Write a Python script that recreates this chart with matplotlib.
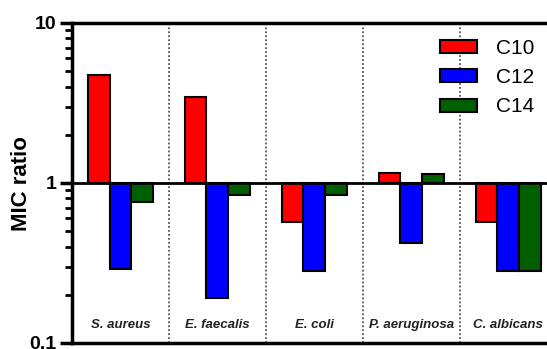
import numpy as np
import matplotlib.pyplot as plt
from matplotlib.ticker import LogLocator, NullFormatter, FixedLocator

plt.rcParams['font.family'] = ['Liberation Sans', 'DejaVu Sans']

organisms = ['S. aureus', 'E. faecalis', 'E. coli', 'P. aeruginosa', 'C. albicans']
c10 = [4.7, 3.45, 0.57, 1.15, 0.57]
c12 = [0.29, 0.19, 0.28, 0.42, 0.28]
c14 = [0.76, 0.84, 0.84, 1.13, 0.28]
series = [('C10', c10, '#ff0000'), ('C12', c12, '#0000ff'), ('C14', c14, '#005f00')]

fig = plt.figure(figsize=(5.47, 3.49), dpi=100)
ax = fig.add_axes([0.1316, 0.0172, 0.8684, 0.917])

x = np.arange(len(organisms))
w = 0.225
for i, (name, vals, col) in enumerate(series):
    vals = np.array(vals)
    # bars start at ratio 1 and go up or down on the log axis
    ax.bar(x + (i - 1) * w, vals - 1, bottom=1, width=w, color=col,
           edgecolor='black', linewidth=1.5, label=name, zorder=3)

ax.set_yscale('log')
ax.set_ylim(0.1, 10)
ax.set_xlim(-0.5, 4.4)
ax.axhline(1, color='black', lw=2, zorder=4)

for s in x[:-1] + 0.5:
    ax.axvline(s, color='#555555', lw=1.3, ls=(0, (1, 1.2)), zorder=1)

for xi, name in zip(x, organisms):
    ax.text(xi, 0.13, name, ha='center', va='center', fontsize=9.5,
            fontstyle='italic', fontweight='bold', color='#222222')

ax.yaxis.set_major_locator(FixedLocator([0.1, 1, 10]))
ax.yaxis.set_minor_locator(LogLocator(base=10, subs=np.arange(2, 10)))
ax.yaxis.set_minor_formatter(NullFormatter())
ax.set_yticklabels(['0.1', '1', '10'], fontweight='bold', fontsize=14)
ax.tick_params(axis='y', which='major', length=9, width=2.5, pad=2)
ax.tick_params(axis='y', which='minor', length=5, width=2)
ax.set_xticks([])

for side in ['left', 'top', 'bottom']:
    ax.spines[side].set_linewidth(2.5)
ax.spines['right'].set_visible(False)

fig.text(0.039, 0.475, 'MIC ratio', rotation=90, ha='center', va='center',
         fontsize=16, fontweight='bold')

ax.legend(loc='upper right', bbox_to_anchor=(1.0, 0.99), frameon=False,
          fontsize=15, handlelength=1.8, handleheight=0.6, labelspacing=0.5,
          handletextpad=0.9, borderaxespad=0.2)

fig.savefig('out.png', dpi=100)
